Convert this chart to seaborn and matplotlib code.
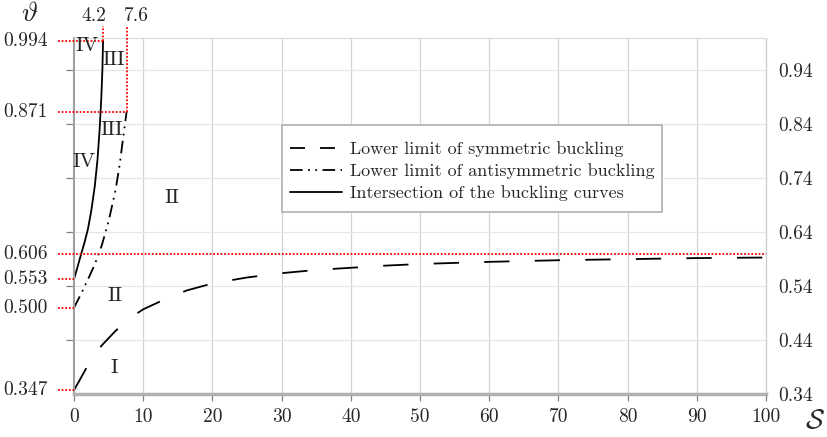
import matplotlib
matplotlib.use("Agg")
import matplotlib.pyplot as plt
import matplotlib.patches as mpatches
import seaborn as sns

# ---- data ----
sym_x = [0, 2, 4, 6, 8, 10, 12.7, 16.3, 20, 25, 30, 35, 40, 45, 50, 60, 70, 80, 90, 100]
sym_y = [0.347, 0.393, 0.430, 0.457, 0.480, 0.497, 0.513, 0.532, 0.545, 0.556, 0.564,
         0.570, 0.574, 0.578, 0.581, 0.585, 0.588, 0.590, 0.592, 0.593]

anti_x = [0, 1.0, 2.0, 3.0, 4.0, 5.0, 6.0, 6.6, 7.1, 7.6]
anti_y = [0.500, 0.525, 0.552, 0.580, 0.615, 0.660, 0.718, 0.765, 0.815, 0.863]

inter_x = [0, 0.5, 1.0, 1.5, 2.0, 2.5, 3.0, 3.4, 3.7, 3.95, 4.1, 4.2]
inter_y = [0.553, 0.575, 0.598, 0.620, 0.645, 0.680, 0.725, 0.775, 0.830, 0.890, 0.940, 0.994]

left_tick_pos = [0.994, 0.863, 0.600, 0.553, 0.500, 0.347]
left_tick_labels = ["0.994", "0.871", "0.606", "0.553", "0.500", "0.347"]
red_h_end = [4.2, 7.6, 100, 0, 0, 0]

right_ticks = [0.34, 0.44, 0.54, 0.64, 0.74, 0.84, 0.94]
right_tick_labels = ["0.34", "0.44", "0.54", "0.64", "0.74", "0.84", "0.94"]
x_ticks = [0, 10, 20, 30, 40, 50, 60, 70, 80, 90, 100]

top_x = [4.2, 7.6]
top_x_labels = ["4.2", "7.6"]
top_x_bottom = [0.994, 0.863]

regions = ["IV", "III", "III", "IV", "II", "II", "I"]
region_x = [1.9, 5.8, 5.5, 1.5, 14.2, 5.9, 5.8]
region_y = [0.985, 0.960, 0.830, 0.770, 0.703, 0.521, 0.388]

labels = ["Lower limit of symmetric buckling",
          "Lower limit of antisymmetric buckling",
          "Intersection of the buckling curves"]

# ---- style ----
sns.set_theme(style="white")
plt.rcParams["font.family"] = ["cmr10", "DejaVu Serif"]
plt.rcParams["mathtext.fontset"] = "cm"
plt.rcParams["axes.formatter.use_mathtext"] = True

fig = plt.figure(figsize=(8.28, 4.37), dpi=100)
ax = fig.add_axes([74 / 828, 1 - 394 / 437, (766 - 74) / 828, (394 - 38) / 437])

ax.set_xlim(0, 100)
ax.set_ylim(0.34, 1.0)

# grid
for gx in x_ticks[1:-1]:
    ax.axvline(gx, color="#d4d4d4", lw=0.9, zorder=0)
for gy in right_ticks[1:]:
    ax.axhline(gy, color="#e6e6e6", lw=0.9, zorder=0)

# curves
sns.lineplot(x=sym_x, y=sym_y, ax=ax, color="black", lw=1.3,
             linestyle=(0, (14, 14)), label=labels[0], sort=False)
sns.lineplot(x=anti_x, y=anti_y, ax=ax, color="black", lw=1.3,
             linestyle=(0, (7, 3, 1, 3, 1, 3)), label=labels[1], sort=False)
sns.lineplot(x=inter_x, y=inter_y, ax=ax, color="black", lw=1.3,
             linestyle="-", label=labels[2], sort=False)

# red dotted guides
x_left = -2.3
for yp, xe in zip(left_tick_pos, red_h_end):
    ax.plot([x_left, xe], [yp, yp], color="red", lw=1.3, ls=(0, (1, 1)),
            clip_on=False, zorder=3)
for xp, yb in zip(top_x, top_x_bottom):
    ax.plot([xp, xp], [yb, 1.023], color="red", lw=1.3, ls=(0, (1, 1)),
            clip_on=False, zorder=3)

# left labels
ytr = ax.get_yaxis_transform()
for yp, lab in zip(left_tick_pos, left_tick_labels):
    ax.text(-0.0376, yp, lab, transform=ytr, ha="right", va="center", fontsize=14)

# top labels (first one sits left of its line, second one right)
ax.text(top_x[0] + 0.5, 1.031, top_x_labels[0], ha="right", va="baseline",
        fontsize=14, clip_on=False)
ax.text(top_x[1] - 0.45, 1.031, top_x_labels[1], ha="left", va="baseline",
        fontsize=14, clip_on=False)

# region labels
for t, rx, ry in zip(regions, region_x, region_y):
    ax.text(rx, ry, t, ha="center", va="center", fontsize=15)

# axes ticks
ax.set_xticks(x_ticks)
ax.set_xticklabels([str(v) for v in x_ticks], fontsize=14)
ax.set_yticks(right_ticks[1:])
ax.set_yticklabels([])
ax.tick_params(axis="y", left=True, length=6, width=0.9, color="#808080", direction="out")
ax.tick_params(axis="x", bottom=True, length=5, width=0.9, color="#808080",
               direction="out", pad=5)

ax2 = ax.twinx()
ax2.set_ylim(0.34, 1.0)
ax2.set_yticks(right_ticks)
ax2.set_yticklabels(right_tick_labels, fontsize=14)
ax2.tick_params(axis="y", length=0, pad=9)
for s in ax2.spines.values():
    s.set_visible(False)

# spines
ax.spines["left"].set_color("#a0a0a0")
ax.spines["left"].set_linewidth(1.5)
ax.spines["bottom"].set_color("#b0b0b0")
ax.spines["bottom"].set_linewidth(2.5)
ax.spines["top"].set_color("#dddddd")
ax.spines["top"].set_linewidth(0.9)
ax.spines["right"].set_color("#cccccc")
ax.spines["right"].set_linewidth(0.9)

# axis symbols
fig.text(30 / 828, 1 - 14 / 437, r"$\vartheta$", fontsize=20, ha="center", va="center")
fig.text(815 / 828, 1 - 421 / 437, r"$\mathcal{S}$", fontsize=20, ha="center", va="center")

# legend box (drawn separately so its padding matches the reference)
box = mpatches.Rectangle((282 / 828, 1 - 212 / 437), 380 / 828, 87 / 437,
                         transform=fig.transFigure, facecolor="white",
                         edgecolor="#b0b0b0", lw=1.2, zorder=4, clip_on=False)
ax.add_patch(box)

leg = ax.legend(loc="upper left", bbox_to_anchor=(290 / 828, 1 - 141 / 437),
                bbox_transform=fig.transFigure, fontsize=13, frameon=False,
                handlelength=2.9, borderpad=0, borderaxespad=0,
                labelspacing=0.36, handletextpad=0.45)
leg.set_zorder(5)
for h in leg.get_lines():
    h.set_linewidth(1.3)
leg.get_lines()[0].set_dashes((8.3, 8.3))

fig.savefig("out.png", dpi=100)
